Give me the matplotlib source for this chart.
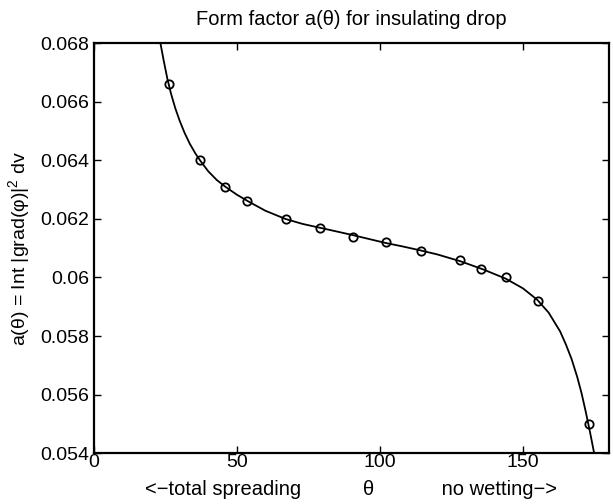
import matplotlib
matplotlib.use("Agg")
import matplotlib.pyplot as plt

plt.rcParams['font.family'] = ['Liberation Sans', 'DejaVu Sans']
plt.rcParams['mathtext.fontset'] = 'custom'
plt.rcParams['mathtext.rm'] = 'Liberation Sans'
plt.rcParams['mathtext.it'] = 'Liberation Sans'

# measured points (circles)
theta_pts = [26.2, 37.3, 45.9, 53.6, 67.1, 79.0, 90.6, 102.3, 114.4, 127.9, 135.5, 144.2, 155.3, 173.0]
a_pts = [0.0666, 0.0640, 0.0631, 0.0626, 0.0620, 0.0617, 0.0614, 0.0612, 0.0609, 0.0606, 0.0603, 0.0600, 0.0592, 0.0550]

# fitted curve
theta_fit = [23.3, 24.5, 25.7, 27.0, 28.5, 30.0, 31.7, 33.5, 35.5, 37.3, 40.0, 43.0, 46.0, 50.0, 54.0,
             60.0, 67.0, 73.0, 79.0, 85.0, 90.0, 96.0, 102.0, 108.0, 114.0, 120.0, 128.0,
             136.0, 144.0, 150.0, 155.0, 159.0, 163.0, 165.0, 167.0, 169.0, 170.5, 172.0, 173.5, 175.0]
a_fit = [0.06800, 0.06738, 0.06680, 0.06628, 0.06578, 0.06536, 0.06495, 0.06458, 0.06424, 0.06398,
         0.06363, 0.06333, 0.06310, 0.06283, 0.06260, 0.06228, 0.06200, 0.06183, 0.06170, 0.06157,
         0.06146, 0.06132, 0.06118, 0.06106, 0.06093, 0.06079, 0.06056, 0.06028, 0.05996, 0.05963,
         0.05924, 0.05880, 0.05816, 0.05772, 0.05722, 0.05660, 0.05605, 0.05540, 0.05470, 0.05395]

x_ticks = [0, 50, 100, 150]
y_ticks = [0.054, 0.056, 0.058, 0.06, 0.062, 0.064, 0.066, 0.068]
y_tick_labels = ['0.054', '0.056', '0.058', '0.06', '0.062', '0.064', '0.066', '0.068']

fig = plt.figure(figsize=(6.13, 5.04), dpi=100)
ax = fig.add_axes([0.153, 0.101, 0.840, 0.813])

ax.plot(theta_fit, a_fit, color='black', linewidth=1.3)
ax.plot(theta_pts, a_pts, 'o', markerfacecolor='none', markeredgecolor='black',
        markersize=6, markeredgewidth=1.3)

ax.set_xlim(0, 180)
ax.set_ylim(0.054, 0.068)
ax.set_xticks(x_ticks)
ax.set_yticks(y_ticks)
ax.set_yticklabels(y_tick_labels)
ax.tick_params(direction='in', top=True, right=True, length=5, width=1, labelsize=14)
ax.tick_params(axis='x', pad=1)
ax.tick_params(axis='y', pad=3)
for s in ax.spines.values():
    s.set_linewidth(1.6)

ax.set_title('Form factor a(\u03b8) for insulating drop', fontsize=14.5, pad=13)
ax.set_xlabel('<\u2212total spreading           \u03b8            no wetting\u2212>',
              fontsize=14.5, labelpad=6)
ax.set_ylabel('a(\u03b8) = Int |grad(\u03c6)|$^2$ dv', fontsize=14, labelpad=6)

fig.savefig('out.png', dpi=100)
